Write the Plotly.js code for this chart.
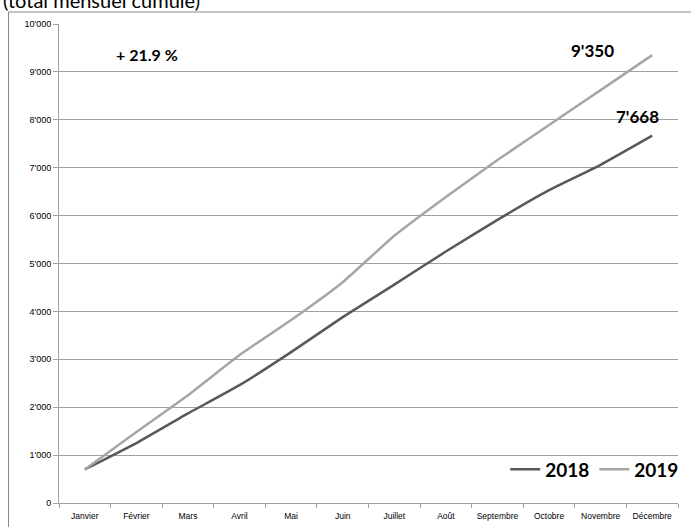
<!DOCTYPE html>
<html>
<head>
<meta charset="utf-8">
<script src="https://cdn.plot.ly/plotly-3.0.1.min.js"></script>
<style>html,body{margin:0;padding:0;background:#fff;}#chart{width:691px;height:527px;}</style>
</head>
<body>
<div id="chart"></div>
<script>
var months = ['Janvier','Février','Mars','Avril','Mai','Juin','Juillet','Août','Septembre','Octobre','Novembre','Décembre'];
var values2018 = [700, 1250, 1870, 2460, 3150, 3880, 4560, 5250, 5910, 6530, 7060, 7668];
var values2019 = [700, 1480, 2250, 3090, 3820, 4610, 5580, 6390, 7160, 7890, 8620, 9350];
var yTicks = [0,1000,2000,3000,4000,5000,6000,7000,8000,9000,10000];
var yTickLabels = ['0',"1'000","2'000","3'000","4'000","5'000","6'000","7'000","8'000","9'000","10'000"];

function fmt(v){ var s = String(Math.round(v)); return s.replace(/\B(?=(\d{3})+(?!\d))/g, "'"); }
var growth = (values2019[11]/values2018[11]-1)*100;

var font = "Lato, 'Open Sans', 'Liberation Sans', sans-serif";
var tickFont = "'Liberation Sans', Arial, sans-serif";

var traces = [
  {x: months, y: values2018, name: '2018', type: 'scatter', mode: 'lines',
   line: {color: '#595959', width: 2.5, shape: 'spline', smoothing: 0.4}},
  {x: months, y: values2019, name: '2019', type: 'scatter', mode: 'lines',
   line: {color: '#a6a6a6', width: 2.5, shape: 'spline', smoothing: 0.4}}
];

var layout = {
  width: 691, height: 527,
  margin: {l: 59, r: 7, t: 24, b: 24},
  paper_bgcolor: '#fff', plot_bgcolor: '#fff',
  font: {family: font, color: '#000'},
  showlegend: true,
  legend: {orientation: 'h', x: 1.01, xanchor: 'right', y: 0.07, yanchor: 'middle',
           font: {family: font, size: 19, color: '#000', weight: 'bold'},
           bgcolor: 'rgba(0,0,0,0)', itemwidth: 30, traceorder: 'normal'},
  xaxis: {type: 'category', range: [-0.5, 11.5], showgrid: false, showline: true,
          linecolor: '#a0a0a0', linewidth: 1, ticks: 'outside', tickson: 'boundaries',
          ticklen: 4, tickcolor: '#a0a0a0', tickangle: 0, ticklabelstandoff: 5,
          tickfont: {family: tickFont, size: 8.5, color: '#000'},
          zeroline: false, fixedrange: true},
  yaxis: {range: [0, 10000], tickvals: yTicks, ticktext: yTickLabels, showgrid: true,
          gridcolor: '#a0a0a0', gridwidth: 1, showline: true, linecolor: '#a0a0a0',
          ticks: 'outside', ticklen: 5, tickcolor: '#a0a0a0',
          tickfont: {family: tickFont, size: 9, color: '#000'}, zeroline: false, fixedrange: true},
  shapes: [
    {type: 'rect', xref: 'paper', yref: 'paper', x0: -0.0816, x1: 1.05, y0: -0.1, y1: 1.025,
     line: {color: '#888', width: 1}, fillcolor: 'rgba(0,0,0,0)', layer: 'below'}
  ],
  annotations: [
    {xref: 'paper', yref: 'paper', x: 0.089, y: 0.937, xanchor: 'left', yanchor: 'middle',
     text: '<b>+ ' + growth.toFixed(1) + ' %</b>', showarrow: false, font: {family: font, size: 16, color: '#000'}},
    {xref: 'paper', yref: 'paper', x: 0.862, y: 0.944, xanchor: 'center', yanchor: 'middle',
     text: '<b>' + fmt(values2019[11]) + '</b>', showarrow: false, font: {family: font, size: 17, color: '#000'}},
    {xref: 'paper', yref: 'paper', x: 0.935, y: 0.806, xanchor: 'center', yanchor: 'middle',
     text: '<b>' + fmt(values2018[11]) + '</b>', showarrow: false, font: {family: font, size: 17, color: '#000'}},
    {xref: 'paper', yref: 'paper', x: -0.094, y: 1.0, yshift: 38, xanchor: 'left', yanchor: 'top',
     text: '(total mensuel cumulé)', showarrow: false, font: {family: font, size: 20, color: '#000'}}
  ]
};

Plotly.newPlot('chart', traces, layout, {displayModeBar: false, staticPlot: true});
</script>
</body>
</html>
